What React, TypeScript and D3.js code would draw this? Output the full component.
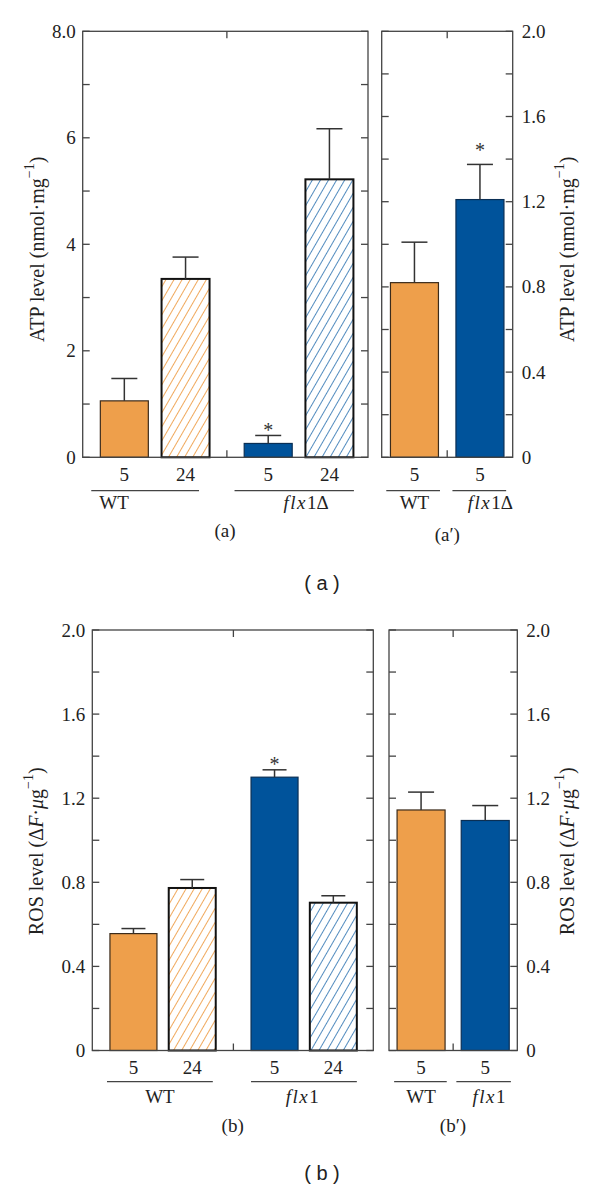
import React, { useEffect, useRef } from 'react'
import * as d3 from 'd3'

// ATP, 4 bars: WT 5h, WT 24h, flx1Δ 5h, flx1Δ 24h
const atpTimes = ['5', '24', '5', '24']
const atpMean = [1.06, 3.35, 0.26, 5.22]
const atpErr = [0.42, 0.41, 0.15, 0.95]
const atpStar = [false, false, true, false]

// ATP prime: WT 5h, flx1Δ 5h
const atpPrimeTimes = ['5', '5']
const atpPrimeMean = [0.82, 1.21]
const atpPrimeErr = [0.19, 0.165]
const atpPrimeStar = [false, true]

// ROS, 4 bars
const rosTimes = ['5', '24', '5', '24']
const rosMean = [0.556, 0.773, 1.3, 0.703]
const rosErr = [0.024, 0.04, 0.035, 0.033]
const rosStar = [false, false, true, false]

// ROS prime
const rosPrimeTimes = ['5', '5']
const rosPrimeMean = [1.144, 1.094]
const rosPrimeErr = [0.085, 0.071]
const rosPrimeStar = [false, false]

const atpTicks = [0, 2, 4, 6, 8]
const atpMinor = [1, 3, 5, 7]
const ratioTicks = [0, 0.4, 0.8, 1.2, 1.6, 2.0]
const ratioMinor = [0.2, 0.6, 1.0, 1.4, 1.8]

const kinds4 = ['wt', 'wtH', 'flx', 'flxH']
const kinds2 = ['wt', 'flx']

const ORANGE = '#EE9F4B'
const BLUE = '#00539B'
const SERIF = '"Liberation Serif", "Times New Roman", serif'
const FS = 19

const fmtAtp = (d: number) => (d === 8 ? '8.0' : String(d))
const fmtRatio = (d: number) => (d === 0 ? '0' : d3.format('.1f')(d))

type Group = { label: string; lo: number; hi: number; tx: number; anchor: string }

type Panel = {
  left: number; right: number; top: number; bottom: number
  yMax: number; ticks: number[]; minor: number[]; fmt: (d: number) => string
  side: 'left' | 'right'
  slots: number[]; domain: [number, number]; barW: number; cap: number
  mean: number[]; err: number[]; star: boolean[]; starDy: number; kinds: string[]; times: string[]
  groups: Group[]
  timeY: number; lineY: number; groupY: number
  caption: string; capX: number; capY: number
  title: 'atp' | 'ros'; titleX: number
}

const panels: Panel[] = [
  {
    left: 82.7, right: 368, top: 31.3, bottom: 457.3,
    yMax: 8, ticks: atpTicks, minor: atpMinor, fmt: fmtAtp, side: 'left',
    slots: [0, 1, 2.35, 3.35], domain: [-0.68, 3.98], barW: 48, cap: 26,
    mean: atpMean, err: atpErr, star: atpStar, starDy: 2, kinds: kinds4, times: atpTimes,
    groups: [
      { label: 'WT', lo: -0.54, hi: 1.22, tx: -0.41, anchor: 'start' },
      { label: 'flx1Δ', lo: 1.8, hi: 3.75, tx: 2.97, anchor: 'middle' }
    ],
    timeY: 481, lineY: 490.7, groupY: 509,
    caption: '(a)', capX: 225, capY: 537, title: 'atp', titleX: 37
  },
  {
    left: 381.7, right: 512.7, top: 31.3, bottom: 457.3,
    yMax: 2, ticks: ratioTicks, minor: ratioMinor, fmt: fmtRatio, side: 'right',
    slots: [0, 1], domain: [-0.5, 1.5], barW: 48, cap: 26,
    mean: atpPrimeMean, err: atpPrimeErr, star: atpPrimeStar, starDy: -7, kinds: kinds2, times: atpPrimeTimes,
    groups: [
      { label: 'WT', lo: -0.43, hi: 0.39, tx: 0.0, anchor: 'middle' },
      { label: 'flx1Δ', lo: 0.58, hi: 1.4, tx: 1.16, anchor: 'middle' }
    ],
    timeY: 481, lineY: 490.7, groupY: 509,
    caption: '(a\u2032)', capX: 447.3, capY: 541, title: 'atp', titleX: 566.7
  },
  {
    left: 92.3, right: 373.3, top: 630, bottom: 1050.5,
    yMax: 2, ticks: ratioTicks, minor: ratioMinor, fmt: fmtRatio, side: 'left',
    slots: [0, 1, 2.4, 3.4], domain: [-0.7, 4.08], barW: 47, cap: 24,
    mean: rosMean, err: rosErr, star: rosStar, starDy: 1, kinds: kinds4, times: rosTimes,
    groups: [
      { label: 'WT', lo: -0.45, hi: 1.35, tx: 0.45, anchor: 'middle' },
      { label: 'flx1', lo: 2.0, hi: 3.8, tx: 2.87, anchor: 'middle' }
    ],
    timeY: 1074, lineY: 1081.7, groupY: 1103,
    caption: '(b)', capX: 232.7, capY: 1132, title: 'ros', titleX: 36
  },
  {
    left: 389, right: 517.3, top: 630, bottom: 1050.5,
    yMax: 2, ticks: ratioTicks, minor: ratioMinor, fmt: fmtRatio, side: 'right',
    slots: [0, 1], domain: [-0.5, 1.5], barW: 48, cap: 26,
    mean: rosPrimeMean, err: rosPrimeErr, star: rosPrimeStar, starDy: 2, kinds: kinds2, times: rosPrimeTimes,
    groups: [
      { label: 'WT', lo: -0.42, hi: 0.4, tx: 0.0, anchor: 'middle' },
      { label: 'flx1', lo: 0.55, hi: 1.4, tx: 1.06, anchor: 'middle' }
    ],
    timeY: 1074, lineY: 1081.7, groupY: 1103,
    caption: '(b\u2032)', capX: 453, capY: 1132, title: 'ros', titleX: 566.7
  }
]

const fillOf = (k: string) =>
  k === 'wt' ? ORANGE : k === 'flx' ? BLUE : k === 'wtH' ? 'url(#hatchOrange)' : 'url(#hatchBlue)'
const strokeOf = (k: string) => (k === 'wt' ? '#3b2b1b' : k === 'flx' ? '#0a2f55' : '#111')
const strokeW = (k: string) => (k === 'wt' || k === 'flx' ? 1.2 : 2)

function groupLabel(sel: any, label: string) {
  // "flx" italic with a bit of spacing, rest upright
  if (label.startsWith('flx')) {
    sel.append('tspan').attr('font-style', 'italic').attr('letter-spacing', 1.5).text('flx')
    sel.append('tspan').text(label.slice(3))
  } else {
    sel.text(label)
  }
}

function yTitle(sel: any, kind: 'atp' | 'ros') {
  if (kind === 'atp') {
    sel.append('tspan').text('ATP level (nmol\u00b7mg')
  } else {
    sel.append('tspan').text('ROS level (\u0394')
    sel.append('tspan').attr('font-style', 'italic').text('F')
    sel.append('tspan').text('\u00b7')
    sel.append('tspan').attr('font-style', 'italic').text('\u03bc')
    sel.append('tspan').text('g')
  }
  sel.append('tspan').attr('dy', -8).attr('font-size', 14).text('\u22121')
  sel.append('tspan').attr('dy', 8).text(')')
}

export default function App() {
  const node = useRef<SVGSVGElement>(null)

  useEffect(() => {
    const svg = d3.select(node.current)
    svg.selectAll('*').remove()

    const defs = svg.append('defs')
    ;[['hatchOrange', ORANGE], ['hatchBlue', '#3f7fb8']].forEach(([id, c]) => {
      const p = defs.append('pattern')
        .attr('id', id)
        .attr('patternUnits', 'userSpaceOnUse')
        .attr('width', 7)
        .attr('height', 7)
        .attr('patternTransform', 'rotate(30)')
      p.append('rect').attr('width', 7).attr('height', 7).attr('fill', '#fff')
      p.append('line')
        .attr('x1', 3.5).attr('x2', 3.5).attr('y1', 0).attr('y2', 7)
        .attr('stroke', c).attr('stroke-width', 0.9)
    })

    panels.forEach(p => {
      const g = svg.append('g')
      const x = d3.scaleLinear().domain(p.domain).range([p.left, p.right])
      const y = d3.scaleLinear().domain([0, p.yMax]).range([p.bottom, p.top])
      const tickLen = 7
      const midX = x((p.slots[p.slots.length / 2 - 1] + p.slots[p.slots.length / 2]) / 2)

      // bars
      g.append('g')
        .selectAll('rect')
        .data(p.mean)
        .join('rect')
        .attr('x', (d, i) => x(p.slots[i]) - p.barW / 2)
        .attr('y', d => y(d))
        .attr('width', p.barW)
        .attr('height', d => y(0) - y(d))
        .attr('fill', (d, i) => fillOf(p.kinds[i]))
        .attr('stroke', (d, i) => strokeOf(p.kinds[i]))
        .attr('stroke-width', (d, i) => strokeW(p.kinds[i]))

      // error bars
      const eb = g.append('g').attr('stroke', '#333').attr('stroke-width', 1.5)
      p.mean.forEach((m, i) => {
        const cx = x(p.slots[i])
        eb.append('line').attr('x1', cx).attr('x2', cx).attr('y1', y(m)).attr('y2', y(m + p.err[i]))
        eb.append('line')
          .attr('x1', cx - p.cap / 2).attr('x2', cx + p.cap / 2)
          .attr('y1', y(m + p.err[i])).attr('y2', y(m + p.err[i]))
      })

      // asterisks
      g.append('g')
        .selectAll('text')
        .data(p.mean.map((m, i) => ({ m, i })).filter(d => p.star[d.i]))
        .join('text')
        .attr('x', d => x(p.slots[d.i]))
        .attr('y', d => y(d.m + p.err[d.i]) + p.starDy)
        .attr('text-anchor', 'middle')
        .attr('font-family', SERIF)
        .attr('font-size', 20)
        .attr('fill', '#333')
        .text('*')

      // frame
      g.append('rect')
        .attr('x', p.left).attr('y', p.top)
        .attr('width', p.right - p.left).attr('height', p.bottom - p.top)
        .attr('fill', 'none').attr('stroke', '#444').attr('stroke-width', 1.3)

      const allTicks = [...p.ticks, ...p.minor]
      const tk = g.append('g').attr('stroke', '#444').attr('stroke-width', 1.3)
      allTicks.forEach(t => {
        tk.append('line').attr('x1', p.left).attr('x2', p.left + tickLen).attr('y1', y(t)).attr('y2', y(t))
        tk.append('line').attr('x1', p.right).attr('x2', p.right - tickLen).attr('y1', y(t)).attr('y2', y(t))
      })
      tk.append('line').attr('x1', midX).attr('x2', midX).attr('y1', p.top).attr('y2', p.top + tickLen)
      tk.append('line').attr('x1', midX).attr('x2', midX).attr('y1', p.bottom).attr('y2', p.bottom - tickLen)

      // tick labels
      const axis = p.side === 'left'
        ? d3.axisLeft(y).tickValues(p.ticks).tickFormat(p.fmt as any).tickSize(0).tickPadding(7)
        : d3.axisRight(y).tickValues(p.ticks).tickFormat(p.fmt as any).tickSize(0).tickPadding(9)
      const ax = g.append('g')
        .attr('transform', `translate(${p.side === 'left' ? p.left : p.right},0)`)
        .call(axis)
      ax.select('.domain').remove()
      ax.selectAll('text')
        .attr('font-family', SERIF)
        .attr('font-size', FS)
        .attr('fill', '#222')

      // y title
      const ty = (p.top + p.bottom) / 2 + (p.title === 'atp' ? 5 : 11)
      const tt = g.append('text')
        .attr('transform', `translate(${p.titleX},${ty}) rotate(-90)`)
        .attr('text-anchor', 'middle')
        .attr('dominant-baseline', 'central')
        .attr('font-family', SERIF)
        .attr('font-size', 20)
        .attr('fill', '#222')
      yTitle(tt, p.title)

      // time labels
      g.append('g')
        .selectAll('text')
        .data(p.times)
        .join('text')
        .attr('x', (d, i) => x(p.slots[i]))
        .attr('y', p.timeY)
        .attr('text-anchor', 'middle')
        .attr('font-family', SERIF)
        .attr('font-size', FS)
        .attr('fill', '#222')
        .text(d => d)

      // group lines + labels
      p.groups.forEach(gr => {
        g.append('line')
          .attr('x1', x(gr.lo)).attr('x2', x(gr.hi))
          .attr('y1', p.lineY).attr('y2', p.lineY)
          .attr('stroke', '#444').attr('stroke-width', 1.3)
        const t = g.append('text')
          .attr('x', x(gr.tx))
          .attr('y', p.groupY)
          .attr('text-anchor', gr.anchor)
          .attr('font-family', SERIF)
          .attr('font-size', FS)
          .attr('fill', '#222')
        groupLabel(t, gr.label)
      })

      // panel caption
      g.append('text')
        .attr('x', p.capX).attr('y', p.capY)
        .attr('text-anchor', 'middle')
        .attr('font-family', SERIF)
        .attr('font-size', FS)
        .attr('fill', '#222')
        .text(p.caption)
    })

    // figure captions
    ;[['( a )', 590], ['( b )', 1180]].forEach(([t, yy]) => {
      svg.append('text')
        .attr('x', 322).attr('y', yy as number)
        .attr('text-anchor', 'middle')
        .attr('font-family', '"Liberation Sans", Arial, sans-serif')
        .attr('font-size', 20)
        .attr('fill', '#222')
        .text(t as string)
    })
  }, [])

  return (
    <svg
      ref={node}
      width={600}
      height={1188}
      style={{ position: 'absolute', left: 0, top: 0, background: '#fff' }}
    />
  )
}
